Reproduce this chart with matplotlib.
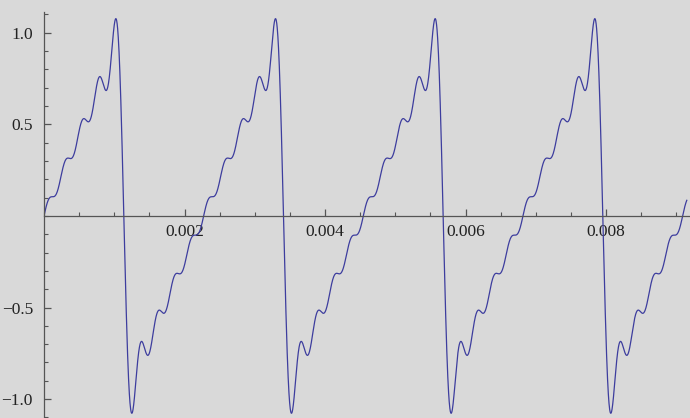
import numpy as np
import matplotlib
matplotlib.use("Agg")
import matplotlib.pyplot as plt
from matplotlib.ticker import MultipleLocator

# Fundamental frequency (Hz) and Fourier coefficients of the partial sawtooth sum
fundamental = 440.0
harmonic_numbers = [1, 2, 3, 4, 5, 6, 7, 8, 9]
coefficients = [0.6366, -0.3183, 0.2122, -0.1592, 0.1273,
                -0.1061, 0.0909, -0.0796, 0.0707]

x_ticks = [0.002, 0.004, 0.006, 0.008]
x_tick_labels = ["0.002", "0.004", "0.006", "0.008"]
y_ticks = [-1.0, -0.5, 0.5, 1.0]
y_tick_labels = ["\u22121.0", "\u22120.5", "0.5", "1.0"]

t_end = 0.00915
t = np.linspace(0, t_end, 4000)
signal = np.zeros_like(t)
for k, c in zip(harmonic_numbers, coefficients):
    signal += c * np.sin(2 * np.pi * k * fundamental * t)

bg = "#d9d9d9"
fig = plt.figure(figsize=(6.9, 4.18), dpi=100, facecolor=bg)
ax = fig.add_axes([44 / 690, 0.0, (690 - 44) / 690, 1.0])
ax.set_facecolor(bg)

ax.plot(t, signal, color="#3d3d9e", lw=0.9)

ax.set_xlim(0, 646 / 70250)
ax.set_ylim(-1.103, 1.179)

for s in ("top", "right"):
    ax.spines[s].set_visible(False)
ax.spines["left"].set_position(("data", 0))
ax.spines["bottom"].set_position(("data", 0))
ax.spines["left"].set_bounds(-1.103, 1.1135)
for s in ("left", "bottom"):
    ax.spines[s].set_color("#555555")
    ax.spines[s].set_linewidth(0.9)

ax.set_xticks(x_ticks)
ax.set_xticklabels(x_tick_labels)
ax.set_yticks(y_ticks)
ax.set_yticklabels(y_tick_labels)
ax.xaxis.set_minor_locator(MultipleLocator(0.0005))
ax.yaxis.set_minor_locator(MultipleLocator(0.1))

for lab in ax.get_xticklabels() + ax.get_yticklabels():
    lab.set_fontfamily("Liberation Serif")
    lab.set_fontsize(12.5)
    lab.set_color("#222222")

ax.tick_params(axis="x", which="both", direction="in", color="#555555", pad=6)
ax.tick_params(axis="y", which="both", direction="in", color="#555555", pad=8)
ax.tick_params(which="major", length=5, width=0.9)
ax.tick_params(which="minor", length=3, width=0.8)

fig.savefig("out.png", dpi=100, facecolor=bg)
